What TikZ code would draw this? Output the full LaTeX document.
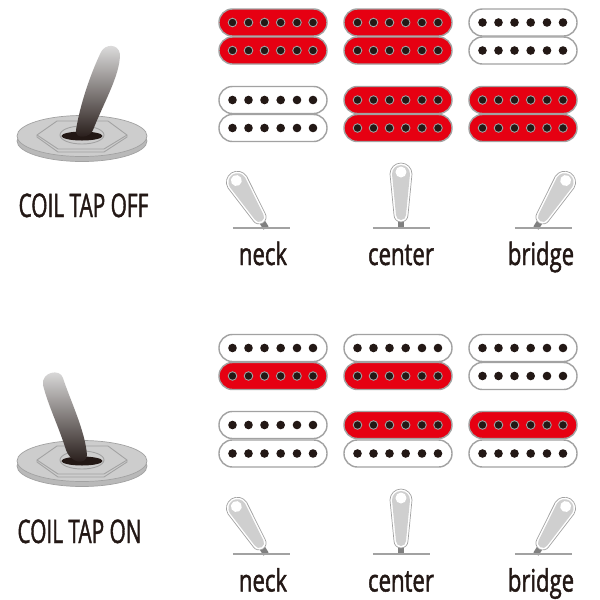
\documentclass[tikz,border=0pt]{standalone}
\usepackage{fontspec}
\setmainfont[FakeStretch=0.72,FakeBold=1.5]{Open Sans}
\newfontfamily\capsfont[FakeStretch=0.64,FakeBold=1.2]{Open Sans}
\definecolor{pickupred}{HTML}{E60012}
\definecolor{inkdark}{HTML}{231815}
\definecolor{platetop}{HTML}{CDCDCD}
\definecolor{plateside}{HTML}{B9B9B9}
\definecolor{plateline}{HTML}{A2A2A2}
\definecolor{levergray}{HTML}{CFCFCF}
\tikzset{
  redcoil/.style={draw=plateline,line width=0.8pt,fill=pickupred,rounded corners=7.6pt},
  whitecoil/.style={draw=plateline,line width=0.8pt,fill=white,rounded corners=7.6pt},
  reddot/.style={fill=inkdark,draw=plateline,line width=0.5pt},
  whitedot/.style={fill=inkdark},
  bigtext/.style={inner sep=0pt,anchor=base,text=inkdark,font=\capsfont\fontsize{18.5}{18.5}\selectfont},
  postext/.style={inner sep=0pt,anchor=base,text=inkdark,font=\fontsize{17.5}{17.5}\selectfont},
  bigknob/.style={top color=black!12,middle color=black!50,bottom color=inkdark},
  coil/.pic={
    \draw[#1coil] (0,-13.5) rectangle (108,13.5);
    \foreach \dx in {13.5,29.5,45.5,61.7,78,94}
      \path[#1dot] (\dx,0) circle (4.3);
  },
  lever/.pic={
    % Stem
    \fill[gray] (-3,0) rectangle (3,-10);
    % Handle outline, body and highlight
    \draw[plateline,line width=0.4pt,fill=white] (-7,-13) -- (-11,-54) arc (180:360:11) -- (7,-13) arc (0:180:7) -- cycle;
    \fill[levergray] (-5,-13) -- (-9,-54) arc (180:360:9) -- (5,-13) arc (0:180:5) -- cycle;
    \fill[white] (0,-56) circle (5.5);
  },
  plate/.pic={
    % Washer, nut and hole
    \draw[plateline,fill=plateside,line width=0.4pt] (0,5) ellipse (65 and 20.5);
    \draw[plateline,fill=platetop,line width=0.4pt] (0,0) ellipse (65 and 20.5);
    \draw[plateline,line width=0.5pt] (-45,-1) -- (-25,-15) -- (26,-15) -- (45,-1) -- (45,1) -- (22,16) -- (-24,16) -- (-45,1) -- cycle;
    \draw[plateline,line width=0.5pt] (-45,-1) -- (-24,13) -- (22,13) -- (45,-1);
    \draw[plateline,line width=0.5pt] (0,-1) ellipse (22 and 9);
    \fill[inkdark] (0,0) ellipse (20.5 and 4.5);
  }
}
\begin{document}
\begin{tikzpicture}[x=0.02cm,y=-0.02cm]
\useasboundingbox (0,0) rectangle (600,600);
\fill[white] (0,0) rectangle (600,600);

% Draw pickups
\foreach \py/\ca/\cb/\cc in {22.5/red/red/white,50.5/red/red/white,100/white/red/red,128/white/red/red,
  348/white/white/white,376/red/red/white,425/white/red/red,453.5/white/white/white}{
  \pic at (219,\py) {coil=\ca};
  \pic at (344,\py) {coil=\cb};
  \pic at (469,\py) {coil=\cc};
}

% Draw small levers and their base lines
\foreach \py in {228,554}{
  \pic[rotate=32] at (266,\py) {lever};
  \pic at (401,\py) {lever};
  \pic[rotate=-32] at (536,\py) {lever};
  \draw[plateline,line width=0.8pt] (233,\py) -- (290,\py);
  \draw[plateline,line width=0.8pt] (373,\py) -- (430,\py);
  \draw[plateline,line width=0.8pt] (515,\py) -- (572,\py);
}

% Draw big switch, off position
\pic at (82,136) {plate};
\shade[bigknob]
  (76,130) .. controls (80,105) and (90,75) .. (101,52) .. controls (105,44) and (118,43) .. (120,54)
  .. controls (120,75) and (105,100) .. (93,130) .. controls (90,138) and (75,140) .. (76,130) -- cycle;

% Draw big switch, on position
\pic at (82,461) {plate};
\shade[bigknob]
  (65,447) .. controls (58,425) and (48,405) .. (43,385) .. controls (41,372) and (60,368) .. (63,378)
  .. controls (70,400) and (85,430) .. (87,455) .. controls (87,465) and (70,465) .. (65,447) -- cycle;

% Labels
\node[bigtext] (tapoff) at (83.5,217) {COIL TAP OFF};
\node[bigtext] (tapon) at (79.5,543) {COIL TAP ON};
\foreach \py/\nm in {265/a,591.5/b}{
  \node[postext] (neck\nm) at (263,\py) {neck};
  \node[postext] (center\nm) at (401,\py) {center};
  \node[postext] (bridge\nm) at (541,\py) {bridge};
}
\end{tikzpicture}
\end{document}
